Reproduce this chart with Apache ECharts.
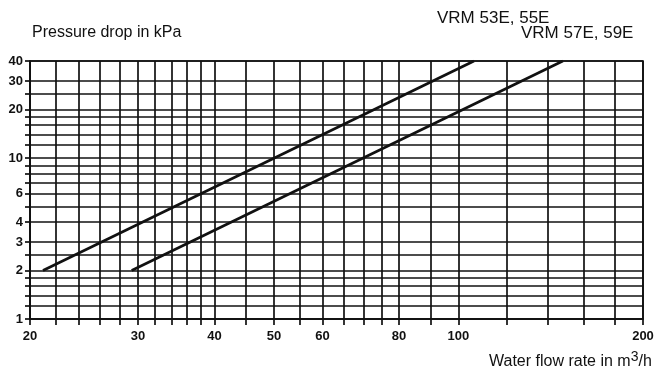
<!DOCTYPE html>
<html>
<head>
<meta charset="utf-8">
<script src="https://cdn.jsdelivr.net/npm/echarts@6/dist/echarts.min.js"></script>
<style>
html,body{margin:0;padding:0;background:#fff;}
#chart{width:660px;height:372px;}
</style>
</head>
<body>
<div id="chart"></div>
<script>
// Grid values (log-log chart)
const flowTicks = [20,22,24,26,28,30,32,34,36,38,40,45,50,55,60,65,70,75,80,90,100,120,140,160,180,200];
const flowLabels = [20,30,40,50,60,80,100,200];
const dropTicks = [1,1.2,1.4,1.6,1.8,2,2.5,3,4,5,6,7,8,9,10,12,14,16,18,20,25,30,40];
const dropLabels = [1,2,3,4,6,10,20,30,40];

// Series: water flow rate (m3/h) vs pressure drop (kPa)
const seriesNames = ['VRM 53E, 55E', 'VRM 57E, 59E'];
const vrm5355Flow = [21, 106];
const vrm5355Drop = [2, 40];
const vrm5759Flow = [29.3, 148];
const vrm5759Drop = [2, 40];

const INK = '#111';
const FONT = '"Liberation Sans", Arial, sans-serif';

const chart = echarts.init(document.getElementById('chart'), null, {renderer: 'canvas'});

function pairs(xs, ys) { return xs.map((x, i) => [x, ys[i]]); }

const axisCommon = {
  type: 'log',
  logBase: 10,
  axisLine: {show: true, onZero: false, lineStyle: {color: INK, width: 1.7}},
  splitLine: {show: true, lineStyle: {color: INK, width: 1.7}},
  minorTick: {show: false},
  minorSplitLine: {show: false}
};

chart.setOption({
  animation: false,
  backgroundColor: '#fff',
  grid: {left: 30, right: 17, top: 61, bottom: 53, show: true, borderColor: INK, borderWidth: 1.7, containLabel: false},
  xAxis: Object.assign({}, axisCommon, {
    min: 20, max: 200,
    axisTick: {show: true, customValues: flowTicks, length: 6, inside: false, lineStyle: {color: INK, width: 1.7}},
    axisLabel: {customValues: flowLabels, margin: 11, fontFamily: FONT, fontWeight: 'bold', fontSize: 13, color: INK}
  }),
  yAxis: Object.assign({}, axisCommon, {
    min: 1, max: 40,
    axisTick: {show: true, customValues: dropTicks, length: 5, inside: false, lineStyle: {color: INK, width: 1.7}},
    axisLabel: {customValues: dropLabels, margin: 7, fontFamily: FONT, fontWeight: 'bold', fontSize: 13, color: INK}
  }),
  series: [
    {type: 'line', name: seriesNames[0], data: pairs(vrm5355Flow, vrm5355Drop), symbol: 'none', silent: true,
     lineStyle: {color: INK, width: 2.7}},
    {type: 'line', name: seriesNames[1], data: pairs(vrm5759Flow, vrm5759Drop), symbol: 'none', silent: true,
     lineStyle: {color: INK, width: 2.7}}
  ],
  graphic: [
    {type: 'text', x: 32, y: 33, silent: true,
     style: {text: 'Pressure drop in kPa', font: '16px ' + FONT, fill: INK, align: 'left', verticalAlign: 'middle'}},
    {type: 'text', x: 437, y: 18, silent: true,
     style: {text: seriesNames[0], font: '17px ' + FONT, fill: INK, align: 'left', verticalAlign: 'middle'}},
    {type: 'text', x: 521, y: 33, silent: true,
     style: {text: seriesNames[1], font: '17px ' + FONT, fill: INK, align: 'left', verticalAlign: 'middle'}},
    {type: 'text', x: 489, y: 362, silent: true,
     style: {text: '{a|Water flow rate in m}{s|3}{a|/h}', fill: INK, align: 'left', verticalAlign: 'middle',
       rich: {
         a: {fontFamily: FONT, fontSize: 16, fill: INK},
         s: {fontFamily: FONT, fontSize: 14, fill: INK, padding: [0, 0, 9, 0]}
       }}}
  ]
});
</script>
</body>
</html>
